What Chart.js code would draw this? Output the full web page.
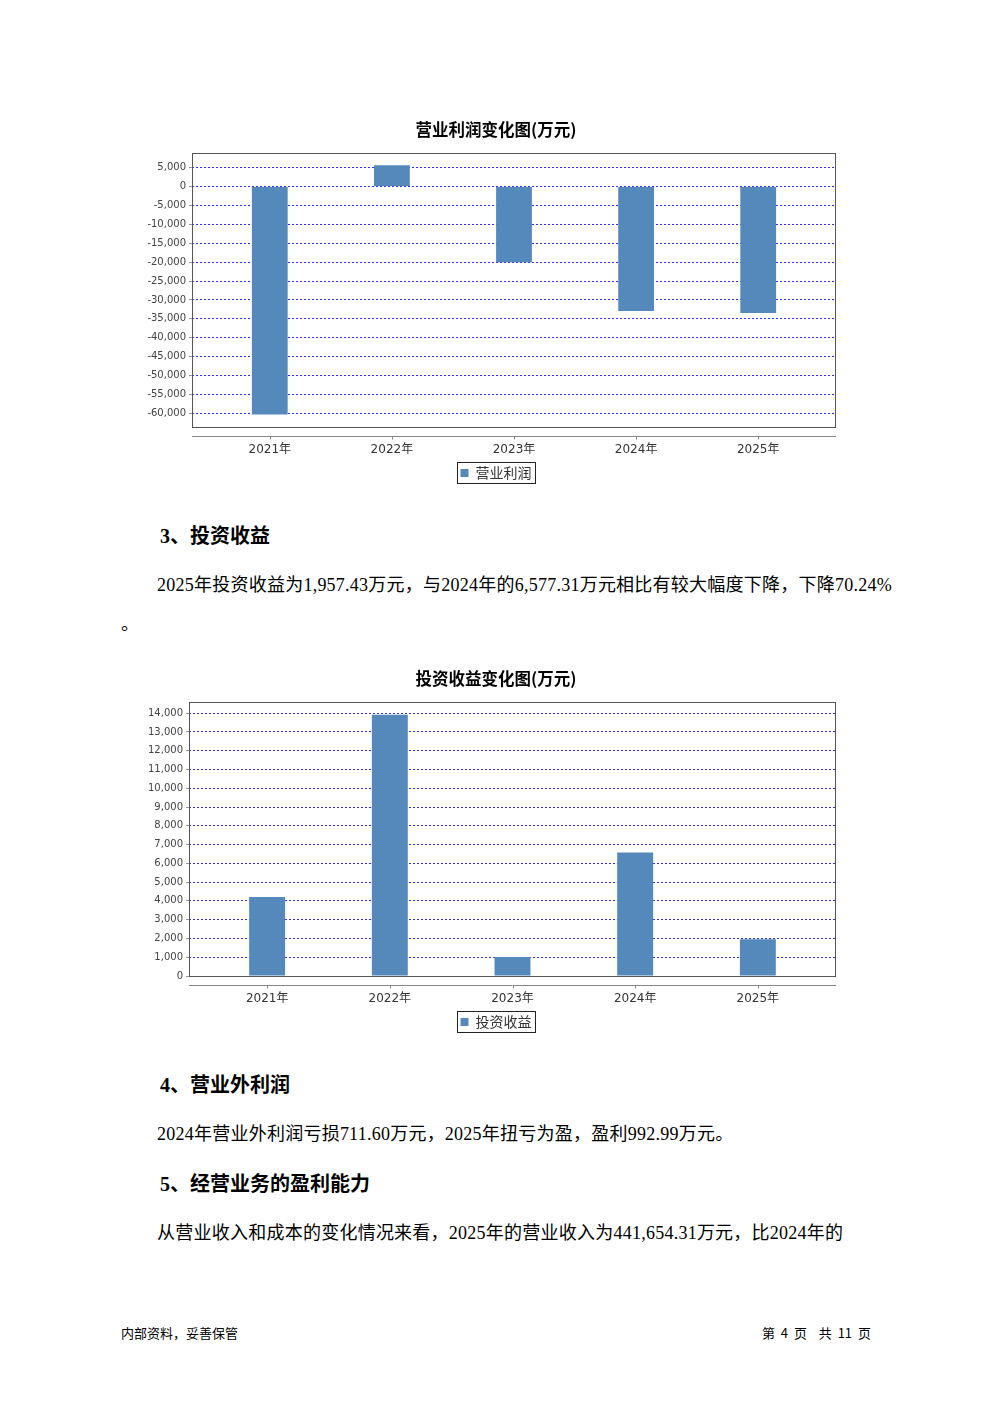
<!DOCTYPE html>
<html lang="zh-CN">
<head>
<meta charset="UTF-8">
<title>营业利润 / 投资收益</title>
<script src="https://cdn.jsdelivr.net/npm/chart.js@4.4.1/dist/chart.umd.min.js"></script>
<style>
  body { margin: 0; width: 992px; height: 1403px; background: #fff; position: relative; overflow: hidden; }
  .t { position: absolute; white-space: nowrap; color: #000; font-family: "Liberation Serif", "Noto Sans CJK SC", serif; }
  .h { font-size: 20px; font-weight: bold; line-height: 24px; }
  .p { font-size: 18px; line-height: 24px; letter-spacing: 0.24px; }
  .f { font-family: "Noto Sans CJK SC", "DejaVu Sans", sans-serif; font-size: 13px; line-height: 16px; }
  .chart { position: absolute; left: 0; }
</style>
</head>
<body>

<canvas id="profitChart" class="chart" width="992" height="390" style="top:100px"></canvas>

<div class="t h" style="left:160px;top:524px">3、投资收益</div>
<div class="t p" style="left:157px;top:573px">2025年投资收益为1,957.43万元，与2024年的6,577.31万元相比有较大幅度下降，下降70.24%</div>
<div class="t p" style="left:121px;top:612px">。</div>

<canvas id="investChart" class="chart" width="992" height="390" style="top:649px"></canvas>

<div class="t h" style="left:160px;top:1073px">4、营业外利润</div>
<div class="t p" style="left:157px;top:1122px">2024年营业外利润亏损711.60万元，2025年扭亏为盈，盈利992.99万元。</div>
<div class="t h" style="left:160px;top:1172px">5、经营业务的盈利能力</div>
<div class="t p" style="left:157px;top:1221px">从营业收入和成本的变化情况来看，2025年的营业收入为441,654.31万元，比2024年的</div>

<div class="t f" style="left:121px;top:1325px">内部资料，妥善保管</div>
<div class="t f" style="right:121px;top:1325px;word-spacing:3px">第 4 页 &nbsp;共 11 页</div>

<script>
// data (万元)
const years = ['2021年', '2022年', '2023年', '2024年', '2025年'];
const profitValues = [-60340, 5650, -20050, -32950, -33480];
const profitTicks = [-60000, -55000, -50000, -45000, -40000, -35000, -30000, -25000, -20000, -15000, -10000, -5000, 0, 5000];
const investValues = [4210, 13910, 1010, 6577.31, 1957.43];
const investTicks = [0, 1000, 2000, 3000, 4000, 5000, 6000, 7000, 8000, 9000, 10000, 11000, 12000, 13000, 14000];

const BAR = '#5588bb';

// plot frame, detached category axis line and bordered legend
const framePlugin = {
  id: 'frame',
  afterDraw(chart) {
    const { ctx, chartArea: a, scales: { x } } = chart;
    const l = Math.round(a.left), r = Math.round(a.right);
    const t = Math.round(a.top), b = Math.round(a.bottom);
    ctx.save();
    ctx.lineWidth = 1;
    ctx.strokeStyle = '#555';
    ctx.strokeRect(l + 0.5, t + 0.5, r - l - 1, b - t);

    const ay = b + 9.5;
    ctx.strokeStyle = '#888';
    ctx.beginPath();
    ctx.moveTo(a.left, ay);
    ctx.lineTo(a.right, ay);
    x.ticks.forEach(tk => {
      const px = Math.round(x.getPixelForValue(tk.value)) + 0.5;
      ctx.moveTo(px, ay);
      ctx.lineTo(px, ay + 3);
    });
    ctx.stroke();

    const hb = chart.legend.legendHitBoxes[0];
    if (hb) {
      const cy = hb.top + hb.height / 2;
      ctx.strokeStyle = '#222';
      ctx.strokeRect(Math.round(hb.left) - 3.5, Math.round(cy) - 10.5, Math.round(hb.width) + 7, 21);
    }
    ctx.restore();
  }
};

function makeChart(id, title, label, values, ticks, axisWidth) {
  const hi = Math.max(0, ...values);
  const lo = Math.min(0, ...values);
  const span = hi - lo;
  const yMax = hi + span * 0.05;
  const yMin = lo < 0 ? lo - span * 0.05 : 0;

  return new Chart(document.getElementById(id), {
    type: 'bar',
    data: {
      datasets: [{
        label: label,
        data: values.map((v, i) => ({ x: i, y: v })),
        backgroundColor: BAR,
        borderWidth: 0,
        barPercentage: 1,
        categoryPercentage: 0.293
      }]
    },
    options: {
      responsive: false,
      animation: false,
      layout: { padding: { left: 140, right: 140, top: 0, bottom: 0 } },
      scales: {
        x: {
          type: 'linear',
          offset: false,
          bounds: 'data',
          min: -0.637,
          max: 4.637,
          afterBuildTicks: s => { s.ticks = years.map((y, i) => ({ value: i })); },
          afterFit: s => { s.height = 31; },
          grid: { display: false, drawTicks: false, offset: false },
          border: { display: false },
          ticks: {
            autoSkip: false,
            maxRotation: 0,
            padding: 16,
            color: '#333',
            font: { family: '"DejaVu Sans", "Noto Sans CJK SC"', size: 12 },
            callback: v => years[v]
          }
        },
        y: {
          min: yMin,
          max: yMax,
          afterBuildTicks: s => { s.ticks = ticks.map(v => ({ value: v })); },
          afterFit: s => { s.width = axisWidth; },
          grid: {
            color: '#2f2fff',
            lineWidth: 1,
            tickLength: 3,
            tickColor: '#999'
          },
          border: { display: false, dash: [2, 2] },
          ticks: {
            autoSkip: false,
            padding: 3,
            color: '#444',
            font: { family: '"DejaVu Sans"', size: 10 },
            callback: v => v.toLocaleString('en-US')
          }
        },
        // empty right-hand spacer so the plot keeps its right edge while title/legend stay centred
        spacer: {
          type: 'linear',
          position: 'right',
          afterFit: s => { s.width = 16; },
          grid: { display: false, drawTicks: false },
          border: { display: false },
          ticks: { display: false }
        }
      },
      plugins: {
        title: {
          display: true,
          text: title,
          color: '#000',
          font: { family: '"Noto Sans CJK SC"', size: 16.5, weight: 'bold' },
          padding: { top: 20, bottom: 13 }
        },
        legend: {
          position: 'bottom',
          labels: {
            boxWidth: 8,
            boxHeight: 8,
            padding: 8,
            color: '#333',
            font: { family: '"Noto Sans CJK SC"', size: 14 }
          }
        },
        tooltip: { enabled: false }
      }
    },
    plugins: [framePlugin]
  });
}

makeChart('profitChart', '营业利润变化图(万元)', '营业利润', profitValues, profitTicks, 52);
makeChart('investChart', '投资收益变化图(万元)', '投资收益', investValues, investTicks, 49);
</script>
</body>
</html>
